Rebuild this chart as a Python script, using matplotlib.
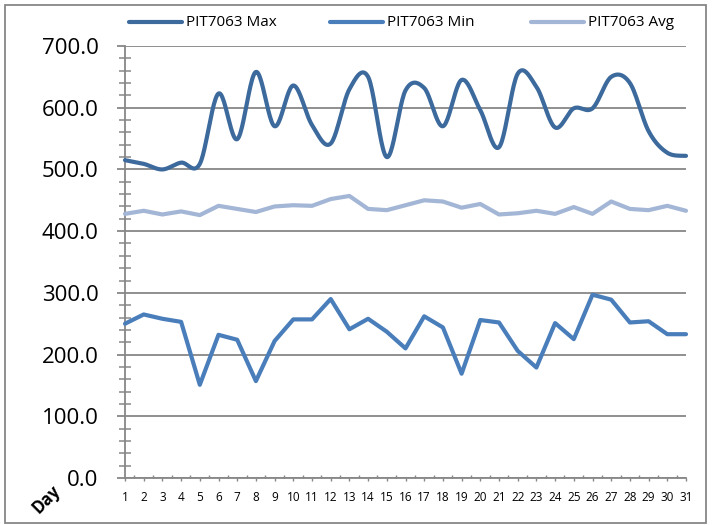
import numpy as np
import matplotlib
matplotlib.use("Agg")
import matplotlib.pyplot as plt
from matplotlib.lines import Line2D
from matplotlib.patches import Rectangle
from matplotlib.ticker import MultipleLocator, FormatStrFormatter

# daily readings for PIT7063
days = list(range(1, 32))
pit_max = [515, 509, 500, 511, 509, 623, 549, 658, 570, 636, 572, 542, 630, 650, 520,
           628, 632, 570, 645, 596, 536, 655, 634, 568, 599, 599, 650, 640, 562, 527, 522]
pit_min = [250, 265, 258, 253, 151, 232, 224, 157, 222, 257, 257, 290, 241, 258, 237,
           210, 262, 244, 169, 256, 252, 206, 179, 251, 225, 297, 289, 252, 254, 233, 233]
pit_avg = [428, 433, 427, 432, 426, 441, 436, 431, 440, 442, 441, 452, 457, 436, 434,
           442, 450, 448, 438, 444, 427, 429, 433, 428, 439, 428, 448, 436, 434, 441, 433]

series_names = ["PIT7063 Max", "PIT7063 Min", "PIT7063 Avg"]
series_colors = ["#3D6A9D", "#4A7EBB", "#A3B6D6"]

GRID = "#878787"
W, H = 712, 525


def smooth(x, y, n=24):
    """Bezier smoothing through every point (Catmull-Rom style, like a spreadsheet 'smoothed line')."""
    p = np.column_stack([x, y]).astype(float)
    ext = np.vstack([p[0], p, p[-1]])
    out = [p[:1]]
    t = np.linspace(0, 1, n + 1)[1:, None]
    for i in range(len(p) - 1):
        p0, p3 = ext[i + 1], ext[i + 2]
        c1 = p0 + (ext[i + 2] - ext[i]) / 6.0
        c2 = p3 - (ext[i + 3] - ext[i + 1]) / 6.0
        seg = ((1 - t) ** 3) * p0 + 3 * ((1 - t) ** 2) * t * c1 + 3 * (1 - t) * t ** 2 * c2 + t ** 3 * p3
        out.append(seg)
    pts = np.vstack(out)
    return pts[:, 0], pts[:, 1]


fig = plt.figure(figsize=(W / 100, H / 100), dpi=100)
ax = fig.add_axes([125 / W, 1 - 478 / H, (686 - 125) / W, (478 - 46) / H])

sx, sy = smooth(days, pit_max)
line_kw = dict(lw=3.0, solid_joinstyle="round", solid_capstyle="round", clip_on=False, zorder=3)
ax.plot(sx, sy, color=series_colors[0], **line_kw)
ax.plot(days, pit_min, color=series_colors[1], **line_kw)
ax.plot(days, pit_avg, color=series_colors[2], **line_kw)

ax.set_xlim(1, 31)
ax.set_ylim(0, 700)

ax.yaxis.set_major_locator(MultipleLocator(100))
ax.yaxis.set_minor_locator(MultipleLocator(20))
ax.yaxis.set_major_formatter(FormatStrFormatter("%.1f"))
ax.set_xticks(days)
ax.set_xticks(np.arange(1.5, 31, 1), minor=True)

ax.grid(axis="y", which="major", color=GRID, lw=1.3)
ax.set_axisbelow(True)
for side in ("top", "right"):
    ax.spines[side].set_visible(False)
for side in ("left", "bottom"):
    ax.spines[side].set_color(GRID)
    ax.spines[side].set_linewidth(1.3)

ax.tick_params(axis="y", which="major", direction="out", length=6, width=1.3, color=GRID,
               pad=13, labelsize=16, labelcolor="black")
ax.tick_params(axis="y", which="minor", direction="inout", length=8, width=1.1, color=GRID)
ax.tick_params(axis="x", which="major", direction="out", length=2.5, width=1.0, color=GRID,
               pad=7, labelsize=8.5)
ax.tick_params(axis="x", which="minor", direction="in", length=2.5, width=1.0, color=GRID)
for lab in ax.get_yticklabels():
    lab.set_family(["Open Sans", "DejaVu Sans"])
for lab in ax.get_xticklabels():
    lab.set_family(["Liberation Sans Narrow", "Open Sans", "DejaVu Sans"])

fig.text(46 / W, 1 - 499 / H, "Day", rotation=45, ha="center", va="center",
         fontsize=12, fontweight="bold", family=["Open Sans", "DejaVu Sans"])

# legend across the top
for k, (name, c) in enumerate(zip(series_names, series_colors)):
    x0 = 129 + k * 201
    fig.add_artist(Line2D([x0 / W, (x0 + 53) / W], [1 - 22 / H] * 2, color=c, lw=3.0,
                          solid_capstyle="round", transform=fig.transFigure))
    fig.text((x0 + 57) / W, 1 - 22 / H, name, ha="left", va="center", fontsize=11,
             family=["Liberation Sans Narrow", "Open Sans", "DejaVu Sans"])

fig.add_artist(Rectangle((5 / W, 1 - 523 / H), (706 - 5) / W, (523 - 5) / H, fill=False,
                         edgecolor=GRID, lw=1.3, transform=fig.transFigure))

fig.savefig("out.png", dpi=100)
